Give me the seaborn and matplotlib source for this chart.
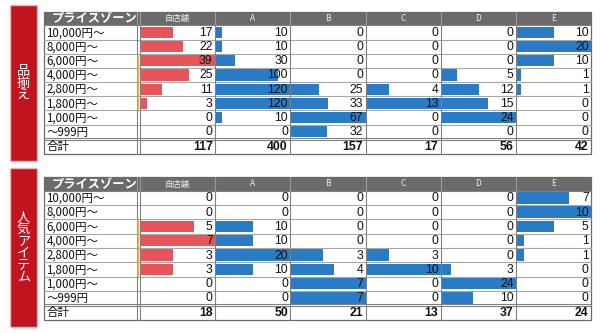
import matplotlib
matplotlib.use('Agg')
import matplotlib.pyplot as plt
import seaborn as sns
import pandas as pd
from matplotlib.patches import Rectangle

sns.set_theme(style='white')
plt.rcParams['font.family'] = ['Liberation Sans Narrow', 'Liberation Sans', 'Noto Sans CJK JP', 'DejaVu Sans']

# ---------------- data ----------------
price_zones = ['10,000円〜', '8,000円〜', '6,000円〜', '4,000円〜',
               '2,800円〜', '1,800円〜', '1,000円〜', '〜999円']
stores = ['自店舗', 'A', 'B', 'C', 'D', 'E']
header_label = 'プライスゾーン'
total_label = '合計'
section_titles = ['品揃え', '人気アイテム']

assort_own = [17, 22, 39, 25, 11, 3, 0, 0]
assort_a = [10, 10, 30, 100, 120, 120, 10, 0]
assort_b = [0, 0, 0, 0, 25, 33, 67, 32]
assort_c = [0, 0, 0, 0, 4, 13, 0, 0]
assort_d = [0, 0, 0, 5, 12, 15, 24, 0]
assort_e = [10, 20, 10, 1, 1, 0, 0, 0]

popular_own = [0, 0, 5, 7, 3, 3, 0, 0]
popular_a = [0, 0, 10, 10, 20, 10, 0, 0]
popular_b = [0, 0, 0, 0, 3, 4, 7, 7]
popular_c = [0, 0, 0, 0, 3, 10, 0, 0]
popular_d = [0, 0, 0, 0, 0, 3, 24, 10]
popular_e = [7, 10, 5, 1, 1, 0, 0, 0]

# ---------------- layout / style ----------------
W, H = 600, 333
RED_BAR = '#e9545b'
BLUE_BAR = '#2a7bc6'
BOX_RED = '#c0141e'
HEAD_GRAY = '#6b6b6b'
LINE_GRAY = '#a8a8a8'
DARK_LINE = '#808080'
ORANGE = '#f0a020'
CJK = ['Noto Sans CJK JP', 'DejaVu Sans']
NUM = ['Liberation Sans Narrow', 'Liberation Sans', 'DejaVu Sans']

col_edges = [140 + i * 75.2 for i in range(7)]
label_x0, label_x1, gap_x1 = 44, 136.7, 140

tables = [
    dict(title=section_titles[0], box=(10, 5, 37, 161), head_top=12.0, data_top=25.3, row_h=14.2,
         series=[assort_own, assort_a, assort_b, assort_c, assort_d, assort_e]),
    dict(title=section_titles[1], box=(10, 168, 37, 327), head_top=177.3, data_top=190.7, row_h=14.3,
         series=[popular_own, popular_a, popular_b, popular_c, popular_d, popular_e]),
]

fig = plt.figure(figsize=(6, 3.33), dpi=100)
fig.patch.set_facecolor('white')
bg = fig.add_axes([0, 0, 1, 1])
bg.set_xlim(0, W); bg.set_ylim(H, 0); bg.axis('off')

# bar axes
for t in tables:
    y0 = t['data_top']
    y1 = y0 + 8 * t['row_h']
    for j, vals in enumerate(t['series']):
        x0 = col_edges[j] + 1
        x1 = col_edges[j + 1]
        axb = fig.add_axes([x0 / W, 1 - y1 / H, (x1 - x0) / W, (y1 - y0) / H])
        df = pd.DataFrame({'zone': price_zones, 'value': vals})
        sns.barplot(data=df, x='value', y='zone', orient='h', ax=axb,
                    color=RED_BAR if j == 0 else BLUE_BAR, saturation=1,
                    width=0.8, linewidth=0, errorbar=None)
        axb.set_xlim(0, max(vals))
        axb.set_ylim(7.5, -0.5)
        axb.axis('off')
        axb.patch.set_alpha(0)

ov = fig.add_axes([0, 0, 1, 1], zorder=10)
ov.set_xlim(0, W); ov.set_ylim(H, 0); ov.axis('off')
ov.patch.set_alpha(0)

xr = col_edges[-1]
for t in tables:
    ht, dt, rh = t['head_top'], t['data_top'], t['row_h']
    tot_top = dt + 8 * rh
    bot = tot_top + 14.7
    # red title box
    bx0, by0, bx1, by1 = t['box']
    bg.add_patch(Rectangle((bx0, by0), bx1 - bx0, by1 - by0, facecolor=BOX_RED,
                           edgecolor='#eab7bb', lw=1.0))
    ov.text((bx0 + bx1) / 2, (by0 + by1) / 2, '\n'.join(t['title']), color='white',
            ha='center', va='center', fontsize=9.5, linespacing=0.9, family=CJK)
    # header
    bg.add_patch(Rectangle((label_x0, ht), xr - label_x0, dt - ht, facecolor=HEAD_GRAY,
                           edgecolor='none'))
    ov.text(label_x0 + 8, (ht + dt) / 2 + 0.3, header_label, color='white', ha='left',
            va='center', fontsize=8.8, fontweight='bold', family=CJK)
    for j, s in enumerate(stores):
        ov.text((col_edges[j] + col_edges[j + 1]) / 2, (ht + dt) / 2, s, color='#f0f0f0',
                ha='center', va='center', fontsize=6, family=CJK)
    # header separators
    for x in [label_x1, gap_x1] + col_edges[1:-1]:
        ov.plot([x, x], [ht, dt], color='#9c9c9c', lw=0.8)
    # horizontal lines
    for i in range(1, 8):
        y = dt + i * rh
        ov.plot([label_x0, xr], [y, y], color=LINE_GRAY, lw=0.8)
    ov.plot([label_x0, xr], [tot_top - 0.8, tot_top - 0.8], color=DARK_LINE, lw=0.8)
    ov.plot([label_x0, xr], [tot_top + 0.8, tot_top + 0.8], color=DARK_LINE, lw=0.8)
    ov.plot([label_x0, xr], [dt, dt], color=DARK_LINE, lw=0.8)
    # vertical lines
    for x in [label_x1, gap_x1] + col_edges[1:-1]:
        ov.plot([x, x], [dt, bot], color=DARK_LINE, lw=0.8)
    # orange axis mark
    ov.plot([138.4, 138.4], [dt + 2 * rh + 1, dt + 6 * rh - 1], color=ORANGE, lw=1.2)
    # outer border
    ov.add_patch(Rectangle((label_x0, ht), xr - label_x0, bot - ht, facecolor='none',
                           edgecolor='#6a6a6a', lw=0.9))
    # row labels
    for i, z in enumerate(price_zones):
        ov.text(label_x0 + 2.5, dt + (i + 0.5) * rh + 0.3, z, ha='left', va='center',
                fontsize=8.3, family=CJK, color='#111111')
    ov.text(label_x0 + 2.5, (tot_top + bot) / 2 + 0.3, total_label, ha='left', va='center',
            fontsize=8.3, family=CJK, color='#111111')
    # numbers
    for j, vals in enumerate(t['series']):
        xt = col_edges[j + 1] - 2.5
        for i, v in enumerate(vals):
            ov.text(xt, dt + (i + 0.5) * rh + 0.5, str(v), ha='right', va='center',
                    fontsize=8.8, family=NUM, color='#111111')
        ov.text(xt, (tot_top + bot) / 2 + 0.5, str(sum(vals)), ha='right', va='center',
                fontsize=8.8, family=NUM, fontweight='bold', color='#111111')

fig.savefig('out.png', dpi=100, facecolor='white')
